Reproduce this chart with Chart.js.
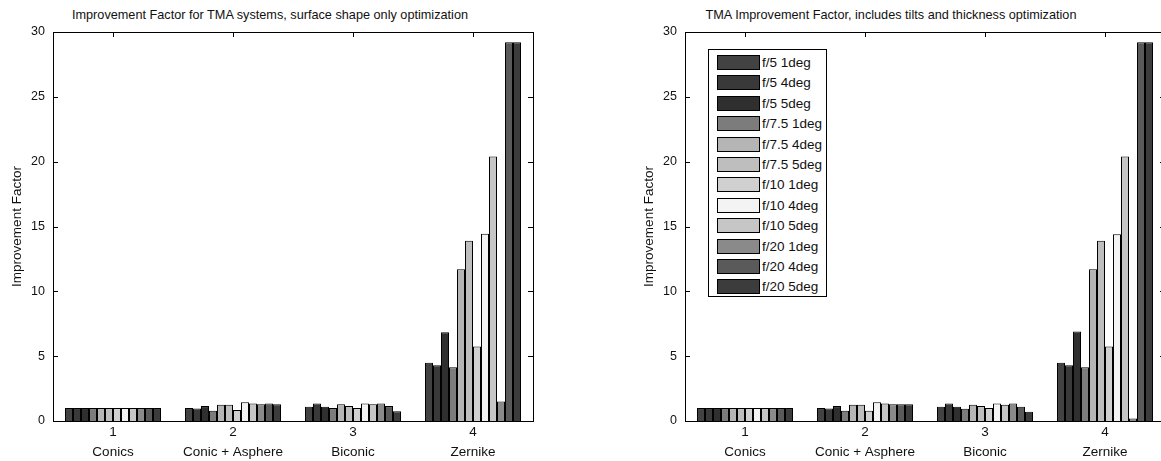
<!DOCTYPE html>
<html>
<head>
<meta charset="utf-8">
<script src="https://cdn.jsdelivr.net/npm/chart.js@4.4.1/dist/chart.umd.min.js"></script>
<style>
  html, body { margin: 0; padding: 0; background: #fff; overflow: hidden; }
  body { width: 1161px; height: 461px; position: relative; font-family: "Liberation Sans", Arial, sans-serif; color: #111; }
  canvas { position: absolute; top: 0; }
  .title { position: absolute; top: 8px; font-size: 12.7px; line-height: 14px; white-space: nowrap; transform: translateX(-50%); }
  #legend { position: absolute; left: 708px; top: 49px; width: 117px; height: 246px; border: 1px solid #000; background: #fff; }
  #legend .row { position: absolute; left: 8px; height: 15px; font-size: 13.5px; line-height: 15px; white-space: nowrap; }
  #legend .swatch { display: inline-block; width: 41px; height: 13px; border: 1px solid #000; vertical-align: top; margin-right: 2px; }
</style>
</head>
<body>
<div class="title" style="left:270px">Improvement Factor for TMA systems, surface shape only optimization</div>
<div class="title" style="left:891px">TMA Improvement Factor, includes tilts and thickness optimization</div>
<canvas id="shapeChart" width="545" height="461" style="left:0"></canvas>
<canvas id="tiltChart" width="545" height="461" style="left:632px"></canvas>
<div id="legend"></div>
<script>
// 分组标签（两行：序号 + 名称）
const categoryLabels = [['1', 'Conics'], ['2', 'Conic + Asphere'], ['3', 'Biconic'], ['4', 'Zernike']];
const seriesLabels = ['f/5 1deg', 'f/5 4deg', 'f/5 5deg', 'f/7.5 1deg', 'f/7.5 4deg', 'f/7.5 5deg',
  'f/10 1deg', 'f/10 4deg', 'f/10 5deg', 'f/20 1deg', 'f/20 4deg', 'f/20 5deg'];
const seriesColors = ['#424242', '#393939', '#2f2f2f', '#7c7c7c', '#b5b5b5', '#bebebe',
  '#d0d0d0', '#f3f3f3', '#c6c6c6', '#8a8a8a', '#5a5a5a', '#3c3c3c'];
const yTickValues = [0, 5, 10, 15, 20, 25, 30];

// 左图：只优化面形
const shapeConics = [1, 1, 1, 1, 1, 1, 1, 1, 1, 1, 1, 1];
const shapeAsphere = [1.0, 0.97, 1.15, 0.8, 1.25, 1.25, 0.85, 1.45, 1.35, 1.3, 1.35, 1.3];
const shapeBiconic = [1.1, 1.35, 1.1, 1.0, 1.3, 1.15, 1.0, 1.35, 1.3, 1.35, 1.15, 0.75];
const shapeZernike = [4.5, 4.3, 6.85, 4.15, 11.7, 13.9, 5.75, 14.45, 20.4, 1.5, 29.2, 29.2];

// 右图：包含倾斜和厚度优化
const tiltConics = [1, 1, 1, 1, 1, 1, 1, 1, 1, 1, 1, 1];
const tiltAsphere = [1.0, 0.97, 1.15, 0.8, 1.25, 1.25, 0.8, 1.45, 1.35, 1.3, 1.3, 1.3];
const tiltBiconic = [1.1, 1.35, 1.1, 0.95, 1.25, 1.15, 1.0, 1.35, 1.25, 1.35, 1.1, 0.72];
const tiltZernike = [4.5, 4.3, 6.9, 4.15, 11.7, 13.9, 5.75, 14.4, 20.4, 0.2, 29.2, 29.2];

// 画坐标框和向内的刻度线（MATLAB 风格）
const frameBox = {
  id: 'frameBox',
  afterDraw(chart) {
    const { ctx, chartArea: a, scales: { x, y } } = chart;
    ctx.save();
    ctx.strokeStyle = '#000';
    ctx.lineWidth = 1;
    ctx.strokeRect(Math.round(a.left) + 0.5, Math.round(a.top) + 0.5, Math.round(a.width), Math.round(a.height));
    ctx.beginPath();
    y.ticks.forEach((t) => {
      const py = Math.round(y.getPixelForValue(t.value)) + 0.5;
      ctx.moveTo(a.left, py); ctx.lineTo(a.left + 5, py);
      ctx.moveTo(a.right, py); ctx.lineTo(a.right - 5, py);
    });
    x.ticks.forEach((t, i) => {
      const px = Math.round(x.getPixelForTick(i)) + 0.5;
      ctx.moveTo(px, a.bottom); ctx.lineTo(px, a.bottom - 5);
      ctx.moveTo(px, a.top); ctx.lineTo(px, a.top + 5);
    });
    ctx.stroke();
    ctx.restore();
  }
};

function buildDatasets(groups) {
  return seriesLabels.map((label, i) => ({
    label,
    data: groups.map(g => g[i]),
    backgroundColor: seriesColors[i],
    borderColor: '#000',
    borderWidth: 1,
    categoryPercentage: 0.8,
    barPercentage: 1.0,
  }));
}

function makeChart(el, groups) {
  return new Chart(el.getContext('2d'), {
    type: 'bar',
    data: { labels: categoryLabels, datasets: buildDatasets(groups) },
    options: {
      responsive: false,
      animation: false,
      devicePixelRatio: 1,
      font: { family: '"Liberation Sans", Arial, sans-serif' },
      layout: { padding: { top: 32, right: 12, left: 0, bottom: 0 } },
      plugins: {
        legend: { display: false },
        tooltip: { enabled: false },
      },
      scales: {
        x: {
          grid: { display: false, drawTicks: false },
          border: { display: false },
          ticks: { color: '#111', font: { size: 13.5, lineHeight: 1.5 }, padding: 1, maxRotation: 0, autoSkip: false },
          afterFit: (s) => { s.height = 40; },
        },
        y: {
          min: 0,
          max: 30,
          afterBuildTicks: (s) => { s.ticks = yTickValues.map(v => ({ value: v })); },
          grid: { display: false, drawTicks: false },
          border: { display: false },
          ticks: { color: '#111', font: { size: 12.5 }, padding: 8 },
          title: { display: true, text: 'Improvement Factor', color: '#111', font: { size: 13.5 }, padding: { top: 9, bottom: 0 } },
          afterFit: (s) => { s.width = 53; },
        },
      },
    },
    plugins: [frameBox],
  });
}

makeChart(document.getElementById('shapeChart'), [shapeConics, shapeAsphere, shapeBiconic, shapeZernike]);
makeChart(document.getElementById('tiltChart'), [tiltConics, tiltAsphere, tiltBiconic, tiltZernike]);

// 右图图例
const legendEl = document.getElementById('legend');
seriesLabels.forEach((label, i) => {
  const row = document.createElement('div');
  row.className = 'row';
  row.style.top = (5 + i * 20.4) + 'px';
  const sw = document.createElement('span');
  sw.className = 'swatch';
  sw.style.background = seriesColors[i];
  row.appendChild(sw);
  row.appendChild(document.createTextNode(label));
  legendEl.appendChild(row);
});
</script>
</body>
</html>
